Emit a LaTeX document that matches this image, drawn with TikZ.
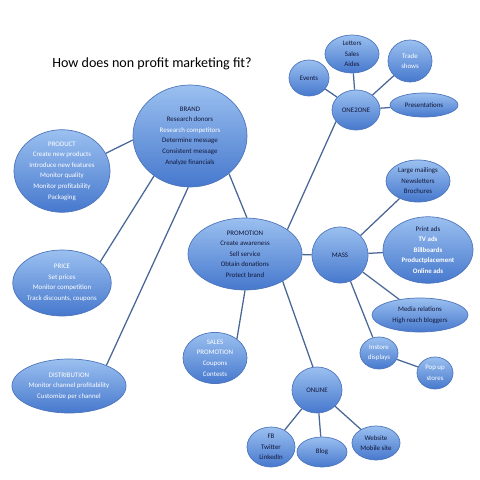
\documentclass[tikz,border=0pt]{standalone}
\usepackage{fontspec}
\setmainfont{Carlito}
\usepackage{xcolor}
\usetikzlibrary{shapes.geometric}
\definecolor{ballhi}{RGB}{155,192,240}
\definecolor{balllo}{RGB}{70,120,205}
\definecolor{ballrim}{RGB}{78,118,188}
\definecolor{linkblue}{RGB}{72,102,150}
\definecolor{ink}{RGB}{18,24,58}
\tikzset{
ball/.style 2 args={ellipse, draw=ballrim, line width=0.5pt,
    top color=ballhi, bottom color=balllo,
    inner sep=0pt, minimum width=#1*0.05cm, minimum height=#2*0.05cm,
    align=center, text=ink,
    font=\fontsize{4.9}{7.5}\selectfont},
link/.style={draw=linkblue, line width=0.9pt},
}
\newcommand{\wt}[1]{\textcolor{white}{#1}}

\begin{document}
\begin{tikzpicture}[x=0.025cm, y=-0.025cm]
    \useasboundingbox (0,0) rectangle (480,480);
    \node [font=\fontsize{10}{12}\selectfont, text=black] (title) at (152,64) {How does non profit marketing fit?};

    \node [ball={57}{51}] (brand) at (190,136) {BRAND\\Research donors\\\wt{Research competitors}\\Determine message\\Consistent message\\Analyze financials};
    \node [ball={48}{38}] (prod) at (62,171) {\wt{PRODUCT}\\\wt{Create new products}\\\wt{Introduce new features}\\\wt{Monitor quality}\\\wt{Monitor profitability}\\\wt{Packaging}};
    \node [ball={48}{33}] (price) at (62,283) {\wt{PRICE}\\\wt{Set prices}\\\wt{Monitor competition}\\\wt{Track discounts, coupons}};
    \node [ball={54}{27}] (dist) at (69,386) {\wt{DISTRIBUTION}\\\wt{Monitor channel profitability}\\\wt{Customize per channel}};
    \node [ball={57}{36}] (prom) at (245,254) {PROMOTION\\Create awareness\\Sell service\\Obtain donations\\Protect brand};
    \node [ball={32}{25}] (sales) at (215,358) {\wt{SALES}\\\wt{PROMOTION}\\\wt{Coupons}\\\wt{Contests}};

    \node [ball={25}{23}] (online) at (317,390) {ONLINE};
    \node [ball={24}{20}] (fb) at (271,447) {FB\\Twitter\\LinkedIn};
    \node [ball={25}{15}] (blog) at (322,452) {Blog};
    \node [ball={24}{17}] (web) at (376,443) {Website\\Mobile site};

    \node [ball={28}{28}] (mass) at (340,255) {MASS};
    \node [ball={32}{21}] (mail) at (418,181) {Large mailings\\Newsletters\\Brochures};
    \node [ball={45}{33}] (ads) at (428,250) {Print ads\\\wt{\bfseries TV ads}\\\wt{\bfseries Billboards}\\\wt{\bfseries Productplacement}\\\wt{\bfseries Online ads}};
    \node [ball={48}{17}] (media) at (420,315) {Media relations\\High reach bloggers};
    \node [ball={19}{16}] (instore) at (379,353) {\wt{Instore}\\\wt{displays}};
    \node [ball={18}{16}] (popup) at (435,373) {\wt{Pop up}\\\wt{stores}};

    \node [ball={24}{20}] (one) at (356,110) {ONE2ONE};
    \node [ball={20}{18}] (events) at (309,78) {Events};
    \node [ball={27}{19}] (letters) at (352,54) {Letters\\Sales\\Aides};
    \node [ball={22}{21}] (trade) at (410,61) {\wt{Trade}\\\wt{shows}};
    \node [ball={34}{12}] (pres) at (424,105) {Presentations};

    % brand and the four p's
    \draw [link] (prod.22) -- (brand.184);
    \draw [link] (price.29) -- (brand.228);
    \draw [link] (dist.29) -- (brand.268);
    \draw [link] (prom.87) -- (brand.316);

    % promotion
    \draw [link] (prom.30) -- (one.210);
    \draw [link] (prom) -- (mass);
    \draw [link] (prom.270) -- (sales.41);
    \draw [link] (prom.324) -- (online.100);

    \draw [link] (online) -- (fb);
    \draw [link] (online) -- (blog);
    \draw [link] (online) -- (web);

    \draw [link] (mass) -- (mail);
    \draw [link] (mass) -- (ads);
    \draw [link] (mass) -- (media);
    \draw [link] (mass) -- (instore);
    \draw [link] (instore) -- (popup);

    \draw [link] (one) -- (events);
    \draw [link] (one) -- (letters);
    \draw [link] (one) -- (trade);
    \draw [link] (one) -- (pres);
\end{tikzpicture}
\end{document}
